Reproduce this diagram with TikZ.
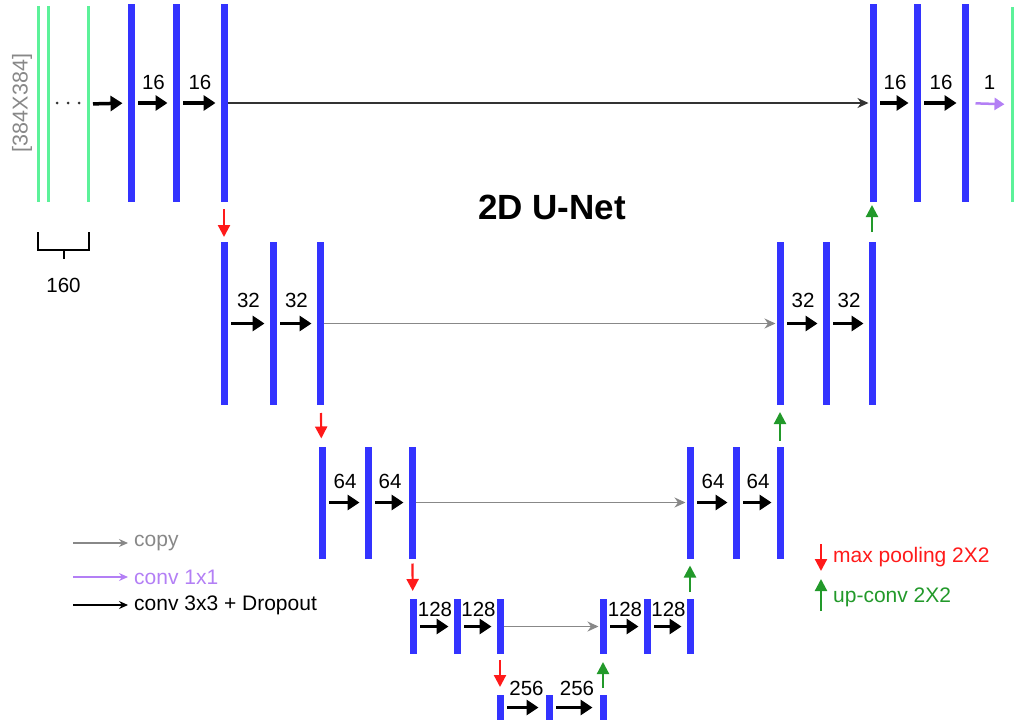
\documentclass[tikz,border=0pt]{standalone}
\usepackage{fontspec}
\setmainfont{Liberation Sans}
\usetikzlibrary{arrows.meta}
\definecolor{barblue}{HTML}{3333FF}
\definecolor{bargreen}{HTML}{5CF29A}
\definecolor{poolred}{HTML}{FF1A1A}
\definecolor{upgreen}{HTML}{22992A}
\definecolor{purp}{HTML}{B37FF5}
\definecolor{copygray}{HTML}{888888}
\definecolor{copydark}{HTML}{333333}
\begin{document}
\begin{tikzpicture}[x=1pt,y=-1pt,
  bar/.style={fill=barblue, draw=none, minimum width=7pt, minimum height=#1, inner sep=0pt, outer sep=0pt},
  gbar/.style={fill=bargreen, draw=none, minimum width=3pt, minimum height=#1, inner sep=0pt, outer sep=0pt},
  conv/.style={-{Triangle[length=12pt,width=15pt]}, line width=3.5pt, black, shorten <=3.5pt, shorten >=5pt},
  convp/.style={-{Triangle[length=10pt,width=12pt]}, line width=2.5pt, purp, shorten <=7pt, shorten >=6pt},
  copyar/.style={-{Stealth[length=11pt,width=10pt,inset=3.5pt]}, line width=1.3pt, copygray, shorten >=1pt},
  pool/.style={-{Triangle[length=12pt,width=12pt]}, line width=2.2pt, poolred, shorten <=7pt, shorten >=5pt},
  upc/.style={-{Triangle[length=12pt,width=12pt]}, line width=2.2pt, upgreen, shorten <=7pt, shorten >=3pt},
  lbl/.style={font=\fontsize{20.5}{22}\selectfont, inner sep=0pt},
  leg/.style={font=\fontsize{21}{24}\selectfont, inner sep=0pt, anchor=west},
  legar/.style={-{Stealth[length=9pt,width=8pt,inset=3pt]}, line width=1.2pt}
]
\useasboundingbox (0,0) rectangle (1015,725);

% ---- level 1 ----
\node[gbar=196pt] (g1) at (38,104) {};
\node[gbar=196pt] (g2) at (48,104) {};
\node[gbar=196pt] (g3) at (88,104) {};
\node[bar=198pt] (b11) at (131,103) {};
\node[bar=198pt] (b12) at (176,103) {};
\node[bar=198pt] (b13) at (224,103) {};
\node[bar=198pt] (r11) at (873,103) {};
\node[bar=198pt] (r12) at (917,103) {};
\node[bar=198pt] (r13) at (965,103) {};
\node[gbar=195pt] (out) at (1012,104.5) {};

% ---- level 2 ----
\node[bar=163pt] (b21) at (224,323.5) {};
\node[bar=163pt] (b22) at (273,323.5) {};
\node[bar=163pt] (b23) at (320,323.5) {};
\node[bar=163pt] (r21) at (780,323.5) {};
\node[bar=163pt] (r22) at (826,323.5) {};
\node[bar=163pt] (r23) at (872,323.5) {};

% ---- level 3 ----
\node[bar=112pt] (b31) at (322,502.5) {};
\node[bar=112pt] (b32) at (368,502.5) {};
\node[bar=112pt] (b33) at (412,502.5) {};
\node[bar=112pt] (r31) at (690,502.5) {};
\node[bar=112pt] (r32) at (736,502.5) {};
\node[bar=112pt] (r33) at (780,502.5) {};

% ---- level 4 ----
\node[bar=55pt] (b41) at (413,626.5) {};
\node[bar=55pt] (b42) at (457,626.5) {};
\node[bar=55pt] (b43) at (500,626.5) {};
\node[bar=55pt] (r41) at (603,626.5) {};
\node[bar=55pt] (r42) at (647,626.5) {};
\node[bar=55pt] (r43) at (690,626.5) {};

% ---- level 5 ----
\node[bar=25pt] (b51) at (500,707.5) {};
\node[bar=25pt] (b52) at (549,707.5) {};
\node[bar=25pt] (b53) at (603,707.5) {};

% dots between input channels
\foreach \dx in {57,68,79} \fill[black!80] (\dx,103) circle (1.5pt);

% ---- conv arrows ----
\draw[conv] (g3) -- (b11);
\draw[conv] (b11) -- node[lbl, yshift=21pt]{16} (b12);
\draw[conv] (b12) -- node[lbl, yshift=21pt]{16} (b13);
\draw[conv] (r11) -- node[lbl, yshift=21pt]{16} (r12);
\draw[conv] (r12) -- node[lbl, yshift=21pt]{16} (r13);
\draw[convp] (r13) -- node[lbl, yshift=21pt, black]{1} (out);

\draw[conv] (b21) -- node[lbl, yshift=23pt]{32} (b22);
\draw[conv] (b22) -- node[lbl, yshift=23pt]{32} (b23);
\draw[conv] (r21) -- node[lbl, yshift=23pt]{32} (r22);
\draw[conv] (r22) -- node[lbl, yshift=23pt]{32} (r23);

\draw[conv] (b31) -- node[lbl, yshift=21pt]{64} (b32);
\draw[conv] (b32) -- node[lbl, yshift=21pt]{64} (b33);
\draw[conv] (r31) -- node[lbl, yshift=21pt]{64} (r32);
\draw[conv] (r32) -- node[lbl, yshift=21pt]{64} (r33);

\draw[conv] (b41) -- node[lbl, yshift=17pt]{128} (b42);
\draw[conv] (b42) -- node[lbl, yshift=17pt]{128} (b43);
\draw[conv] (r41) -- node[lbl, yshift=17pt]{128} (r42);
\draw[conv] (r42) -- node[lbl, yshift=17pt]{128} (r43);

\draw[conv, shorten >=7pt] (b51) -- node[lbl, yshift=19pt, xshift=2pt]{256} (b52);
\draw[conv, shorten >=7pt] (b52) -- node[lbl, yshift=19pt, xshift=1pt]{256} (b53);

% ---- copy arrows ----
\draw[copyar, copydark] (b13) -- (r11);
\draw[copyar] (b23) -- (r21);
\draw[copyar] (b33) -- (r31);
\draw[copyar] (b43) -- (r41);

% ---- max pooling ----
\draw[pool] (b13) -- (b21);
\draw[pool, shorten <=8pt, shorten >=8pt] (b23) -- (b31);
\draw[pool, shorten <=5pt, shorten >=8pt] (b33) -- (b41);
\draw[pool, shorten <=6pt, shorten >=8pt] (b43) -- (b51);

% ---- up-conv ----
\draw[upc, shorten <=10pt] (r23.north) -- (r23.north |- r11.south);
\draw[upc, shorten <=6pt, shorten >=7pt] (r33) -- (r21);
\draw[upc, shorten >=7pt] (r43) -- (r31);
\draw[upc, shorten >=8pt] (b53) -- (r41);

% ---- annotations ----
\node[font=\fontsize{21.5}{24}\selectfont, text=copygray, rotate=90, inner sep=0pt] (size) at (22,103) {[384X384]};
\draw[line width=2pt] (38,232) -- (38,250) -- (89,250) -- (89,232);
\draw[line width=2pt] (63.5,250) -- (63.5,259);
\node[lbl] (ch) at (63.5,285) {160};
\node[font=\bfseries\fontsize{35}{40}\selectfont, inner sep=0pt] (title) at (552,207) {2D U-Net};

% ---- legend left ----
\node[leg, text=copygray] (lcopy) at (134,543) {copy};
\coordinate (lcopys) at (73,543);
\draw[legar, copygray] (lcopys) -- ([xshift=-6pt]lcopy.west);
\node[leg, text=purp] (lpurp) at (134,577) {conv 1x1};
\coordinate (lpurps) at (73,577);
\draw[legar, purp] (lpurps) -- ([xshift=-6pt]lpurp.west);
\node[leg] (lconv) at (134,605) {conv 3x3 + Dropout};
\coordinate (lconvs) at (73,605);
\draw[legar, black] (lconvs) -- ([xshift=-6pt]lconv.west);

% ---- legend right ----
\node[leg, text=poolred] (lpool) at (833,557) {max pooling 2X2};
\coordinate (lpoola) at (821,544);
\coordinate (lpoolb) at (821,571);
\draw[pool, shorten <=0pt, shorten >=0pt] (lpoola) -- (lpoolb);
\node[leg, text=upgreen] (lup) at (833,597) {up-conv 2X2};
\coordinate (lupa) at (821,611);
\coordinate (lupb) at (821,579);
\draw[upc, shorten <=0pt, shorten >=0pt] (lupa) -- (lupb);
\end{tikzpicture}
\end{document}
